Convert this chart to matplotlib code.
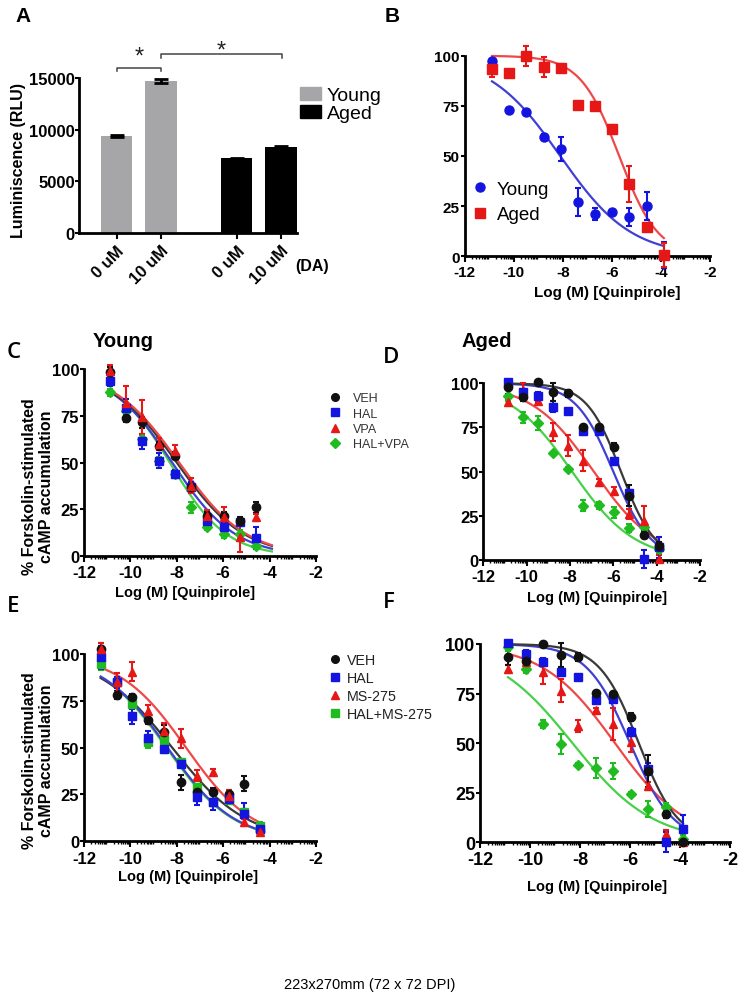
import numpy as np
import matplotlib
matplotlib.use('Agg')
import matplotlib.pyplot as plt
from matplotlib.patches import Patch
from matplotlib.lines import Line2D

W, H = 741, 1004

plt.rcParams['font.family'] = ['Liberation Sans', 'DejaVu Sans']
plt.rcParams['font.weight'] = 'bold'
plt.rcParams['axes.unicode_minus'] = False

# ---------------- data ----------------
# A: luminiscence bars
bar_labels = ['0 uM', '10 uM', '0 uM', '10 uM']
bar_pos = [1.0, 2.0, 3.7, 4.7]
bar_values = [9400, 14700, 7250, 8350]
bar_errors = [100, 220, 50, 100]
bar_groups = ['Young', 'Young', 'Aged', 'Aged']

# log (M) quinpirole concentrations
x_dose = [-10.88, -10.18, -9.48, -8.78, -8.08, -7.38, -6.68, -5.98, -5.28, -4.58, -3.88]
x_dose_e = [-11.28, -10.59, -9.94, -9.23, -8.55, -7.81, -7.13, -6.44, -5.77, -5.09, -4.41]

# B: young vs aged
young_b = [97.5, 72.9, 71.8, 59.3, 53.5, 26.9, 21.1, 21.9, 19.4, 25.2, 0.8]
young_b_err = [1, 1, 1, 1.5, 6, 7, 3, 1, 4.5, 7, 6.5]
aged_b = [93.4, 91.2, 100, 94.5, 93.9, 75.4, 74.8, 63.5, 36.0, 14.8, 0.8]
aged_b_err = [4, 1, 5, 5, 2, 1, 1.5, 2, 9, 2, 6]
# fitted curves: top, bottom, logIC50, hill
fit_young_b = [100, 0, -8.1, 0.3]
fit_aged_b = [100, 0, -5.7, 0.55]

# C: young, VPA
veh_c = [98.2, 73.7, 71.5, 59.0, 53.7, 36.8, 21.7, 21.7, 19.0, 26.2]
veh_c_err = [3, 2, 3, 2, 2, 2, 2, 2, 2, 3]
hal_c = [93.8, 79.0, 61.4, 51.0, 44.0, 36.8, 19.0, 15.8, 18.1, 9.8]
hal_c_err = [3, 5, 4, 4, 2, 3, 4, 2, 2, 6]
vpa_c = [99.0, 81.7, 74.2, 60.0, 56.4, 37.7, 21.7, 21.2, 10.1, 20.8]
vpa_c_err = [3, 9, 9, 3, 3, 4, 3, 5, 8, 2]
halvpa_c = [87.5, 77.8, 62.6, 51.0, 44.0, 26.2, 15.8, 11.9, 11.9, 5.7]
halvpa_c_err = [2, 2, 2, 2, 2, 3, 2, 2, 2, 2]
fit_veh_c = [100, 0, -8.0, 0.3]
fit_hal_c = [100, 0, -8.2, 0.32]
fit_vpa_c = [100, 0, -7.9, 0.3]
fit_halvpa_c = [98, 0, -8.25, 0.36]

# D: aged, VPA
veh_d = [97.7, 92.0, 101.0, 95.0, 94.3, 75.5, 75.0, 64.2, 36.4, 14.3, 8.0]
veh_d_err = [4, 2, 1, 5, 2, 1, 1, 2, 6, 2, 2]
hal_d = [101.0, 95.0, 93.0, 86.8, 84.2, 72.8, 72.8, 56.2, 37.7, 0.6, 7.2]
hal_d_err = [1, 2, 2, 3, 1, 2, 1, 1, 2, 5, 6]
vpa_d = [89.2, 96.2, 90.2, 72.3, 64.7, 56.2, 44.0, 39.2, 26.0, 22.3, 0.6]
vpa_d_err = [2, 4, 1, 5, 6, 6, 2, 2, 3, 8, 2]
halvpa_d = [93.0, 80.8, 77.4, 60.4, 51.5, 30.8, 31.1, 27.0, 18.1, 18.5, 6.0]
halvpa_d_err = [3, 3, 4, 1, 1, 3, 2, 3, 2, 2, 2]
fit_veh_d = [100, 0, -5.65, 0.55]
fit_hal_d = [100, 0, -6.0, 0.5]
fit_vpa_d = [100, 0, -6.9, 0.3]
fit_halvpa_d = [100, 0, -7.9, 0.3]

# E: young, MS-275
veh_e = [102.7, 78.1, 76.9, 64.8, 58.2, 31.5, 26.5, 26.5, 25.3, 30.6, 5.7]
veh_e_err = [3, 2, 2, 2, 4, 4, 3, 2, 2, 4, 2]
hal_e = [98.2, 84.9, 66.7, 55.0, 49.3, 41.3, 23.5, 20.8, 22.6, 14.6, 6.6]
hal_e_err = [6, 3, 4, 4, 2, 2, 4, 4, 2, 6, 2]
ms_e = [102.7, 84.9, 90.6, 69.8, 59.1, 55.0, 35.0, 36.8, 24.4, 10.1, 5.2]
ms_e_err = [3, 5, 5, 3, 4, 5, 3, 2, 3, 2, 1]
halms_e = [94.7, 84.9, 73.3, 52.8, 54.3, 42.2, 28.8, 20.8, 22.2, 15.5, 8.4]
halms_e_err = [3, 2, 2, 3, 2, 2, 2, 2, 2, 2, 2]
fit_veh_e = [100, 0, -8.2, 0.27]
fit_hal_e = [100, 0, -8.4, 0.3]
fit_ms_e = [100, 0, -7.6, 0.3]
fit_halms_e = [100, 0, -8.45, 0.3]

# F: aged, MS-275
veh_f = [93.3, 91.3, 100.0, 94.5, 93.3, 75.1, 74.8, 63.0, 36.1, 14.3, 0.0]
veh_f_err = [4, 2, 1, 6, 2, 1, 1, 2, 8, 2, 1]
hal_f = [100.5, 95.0, 90.8, 86.0, 83.5, 71.9, 72.3, 55.8, 37.0, 0.0, 6.7]
hal_f_err = [1, 2, 2, 2, 1, 2, 1, 2, 3, 5, 7]
ms_f = [87.4, 90.8, 85.7, 76.5, 58.8, 66.7, 59.7, 50.4, 28.6, 4.2, 0.0]
ms_f_err = [2, 2, 6, 6, 3, 1, 8, 5, 2, 2, 1]
halms_f = [98.3, 87.4, 59.7, 49.6, 39.0, 37.3, 36.1, 24.4, 16.8, 17.6, 1.7]
halms_f_err = [2, 2, 2, 5, 1, 5, 4, 1, 4, 2, 2]
fit_veh_f = [100, 0, -5.65, 0.55]
fit_hal_f = [100, 0, -6.0, 0.5]
fit_ms_f = [100, 0, -6.6, 0.3]
fit_halms_f = [100, 0, -8.3, 0.27]

x_ticks = [-12, -10, -8, -6, -4, -2]
y_ticks = [0, 25, 50, 75, 100]

# ---------------- colours / markers ----------------
C_BLACK, L_BLACK = '#111111', '#3a3a3a'
C_BLUE, L_BLUE = '#1414e0', '#4040d4'
C_RED, L_RED = '#e61717', '#ef4848'
C_GREEN, L_GREEN = '#1fbb1f', '#48d048'
GREY_BAR = '#a6a6a9'

fig = plt.figure(figsize=(W / 100, H / 100), dpi=100)


def px_axes(left, top, right, bottom):
    return fig.add_axes([left / W, 1 - bottom / H, (right - left) / W, (bottom - top) / H])


def fig_text(x, y, s, **kw):
    return fig.text(x / W, 1 - y / H, s, **kw)


def four_pl(x, top, bottom, logec50, hill):
    return bottom + (top - bottom) / (1 + 10 ** ((x - logec50) * hill))


def style_dose_axes(ax, xpad, labelsize=12):
    for side in ['top', 'right']:
        ax.spines[side].set_visible(False)
    for side in ['left', 'bottom']:
        ax.spines[side].set_linewidth(2)
    ax.set_xlim(-12, -2)
    ax.set_ylim(0, 100)
    ax.set_xticks(x_ticks)
    ax.set_yticks(y_ticks)
    minor = [n + np.log10(k) for n in range(-12, -2) for k in range(2, 10)]
    ax.set_xticks(minor, minor=True)
    ax.tick_params(axis='x', which='major', length=4, width=1.5, pad=xpad, labelsize=labelsize)
    ax.tick_params(axis='x', which='minor', length=2.5, width=1)
    ax.tick_params(axis='y', length=3, width=1.5, pad=0.5, labelsize=labelsize)
    ax.patch.set_alpha(0)


def draw_series(ax, x, y, err, fit, color, line_color, marker, x_end, ms=6):
    xs = np.linspace(x[0], x_end, 200)
    ax.plot(xs, four_pl(xs, *fit), color=line_color, lw=1.6, zorder=2, clip_on=False)
    eb = ax.errorbar(x, y, yerr=err, fmt=marker, color=color, ms=ms, mec=color,
                     capsize=2.5, elinewidth=1.5, capthick=1.5, zorder=3, clip_on=False)
    for part in eb.lines[1] + eb.lines[2]:
        part.set_clip_on(False)


def marker_handle(color, marker, ms=5.5):
    return Line2D([], [], ls='none', marker=marker, color=color, mec=color, ms=ms)


# ---------------- panel A ----------------
axA = px_axes(79, 79, 297, 234)
bar_colors = [GREY_BAR if g == 'Young' else 'black' for g in bar_groups]
axA.bar(bar_pos, bar_values, width=0.708, color=bar_colors,
        yerr=bar_errors, error_kw=dict(ecolor='black', capsize=5, elinewidth=2, capthick=2))
axA.set_xlim(0.157, 5.054)
axA.set_ylim(0, 15000)
axA.set_yticks([0, 5000, 10000, 15000])
axA.set_xticks(bar_pos)
axA.set_xticklabels(bar_labels, rotation=45, ha='right', rotation_mode='anchor')
for side in ['top', 'right']:
    axA.spines[side].set_visible(False)
for side in ['left', 'bottom']:
    axA.spines[side].set_linewidth(2)
axA.tick_params(axis='y', length=3, width=1.5, pad=0, labelsize=12)
axA.tick_params(axis='x', length=4, width=1.5, pad=3, labelsize=12)

# significance brackets
for x0, x1, y_line, y_end, y_star in [(bar_pos[0], bar_pos[1], 15970, 15680, 17050),
                                      (bar_pos[1], 4.72, 17320, 16930, 17650)]:
    axA.plot([x0, x0, x1, x1], [y_end, y_line, y_line, y_end], color='#444444', lw=1.1,
             clip_on=False)
    axA.text((x0 + x1) / 2, y_star, '*', ha='center', va='center', fontsize=17,
             fontweight='normal', color='#222222', clip_on=False)

axA.legend([Patch(color=GREY_BAR), Patch(color='black')], ['Young', 'Aged'],
           loc='upper left', bbox_to_anchor=(300 / W, 1 - 88 / H),
           bbox_transform=fig.transFigure, frameon=False, borderpad=0, borderaxespad=0,
           handlelength=1.07, handleheight=0.64, handletextpad=0.32, labelspacing=0.05,
           prop={'size': 14, 'weight': 'normal'})
fig_text(19, 160, 'Luminiscence (RLU)', rotation=90, ha='center', va='center', fontsize=11.5)
fig_text(312, 267, '(DA)', ha='center', va='center', fontsize=11.5)

# ---------------- panel B ----------------
axB = px_axes(464.5, 56.7, 710, 257.3)
style_dose_axes(axB, xpad=2, labelsize=11)
draw_series(axB, x_dose, young_b, young_b_err, fit_young_b, C_BLUE, L_BLUE, 'o', x_dose[-1], ms=6.5)
draw_series(axB, x_dose, aged_b, aged_b_err, fit_aged_b, C_RED, L_RED, 's', x_dose[-1], ms=6.5)
axB.legend([marker_handle(C_BLUE, 'o', 6.5), marker_handle(C_RED, 's', 6.5)], ['Young', 'Aged'],
           loc='upper left', bbox_to_anchor=(474.6 / W, 1 - 181.6 / H),
           bbox_transform=fig.transFigure, frameon=False, borderpad=0, borderaxespad=0,
           handlelength=0.6, handletextpad=0.57, labelspacing=0.45,
           prop={'size': 13.5, 'weight': 'normal'})
fig_text(607, 292.5, 'Log (M) [Quinpirole]', ha='center', va='center', fontsize=11)

# ---------------- panel C ----------------
axC = px_axes(84, 370, 316, 557.3)
style_dose_axes(axC, xpad=2.5)
x_c = x_dose[:10]
draw_series(axC, x_c, halvpa_c, halvpa_c_err, fit_halvpa_c, C_GREEN, L_GREEN, 'D', -3.9, ms=5)
draw_series(axC, x_c, hal_c, hal_c_err, fit_hal_c, C_BLUE, L_BLUE, 's', -3.9)
draw_series(axC, x_c, veh_c, veh_c_err, fit_veh_c, C_BLACK, L_BLACK, 'o', -3.9)
draw_series(axC, x_c, vpa_c, vpa_c_err, fit_vpa_c, C_RED, L_RED, '^', -3.9)
axC.legend([marker_handle(C_BLACK, 'o'), marker_handle(C_BLUE, 's'),
            marker_handle(C_RED, '^'), marker_handle(C_GREEN, 'D', 5)],
           ['VEH', 'HAL', 'VPA', 'HAL+VPA'],
           loc='upper left', bbox_to_anchor=(328.75 / W, 1 - 393.5 / H),
           bbox_transform=fig.transFigure, frameon=False, borderpad=0, borderaxespad=0,
           handlelength=1.0, handletextpad=0.94, labelspacing=0.26,
           prop={'size': 9, 'weight': 'normal'}, labelcolor='#333333')
fig_text(185, 593, 'Log (M) [Quinpirole]', ha='center', va='center', fontsize=10.5)
fig_text(38, 487, '% Forskolin-stimulated\ncAMP accumulation', rotation=90, ha='center',
         va='center', fontsize=11.5, linespacing=1.2, multialignment='center')
fig_text(93, 347, 'Young', ha='left', va='baseline', fontsize=14.5)

# ---------------- panel D ----------------
axD = px_axes(483.3, 384.3, 700, 561)
style_dose_axes(axD, xpad=2.5)
draw_series(axD, x_dose, halvpa_d, halvpa_d_err, fit_halvpa_d, C_GREEN, L_GREEN, 'D', -3.9, ms=5)
draw_series(axD, x_dose, vpa_d, vpa_d_err, fit_vpa_d, C_RED, L_RED, '^', -3.9)
draw_series(axD, x_dose, hal_d, hal_d_err, fit_hal_d, C_BLUE, L_BLUE, 's', -3.9)
draw_series(axD, x_dose, veh_d, veh_d_err, fit_veh_d, C_BLACK, L_BLACK, 'o', -3.9)
fig_text(597, 598, 'Log (M) [Quinpirole]', ha='center', va='center', fontsize=10.5)
fig_text(462, 347, 'Aged', ha='left', va='baseline', fontsize=14.5)

# ---------------- panel E ----------------
axE = px_axes(84, 655, 316, 842.3)
style_dose_axes(axE, xpad=3)
draw_series(axE, x_dose_e, halms_e, halms_e_err, fit_halms_e, C_GREEN, L_GREEN, 's', -4.3)
draw_series(axE, x_dose_e, veh_e, veh_e_err, fit_veh_e, C_BLACK, L_BLACK, 'o', -4.3)
draw_series(axE, x_dose_e, hal_e, hal_e_err, fit_hal_e, C_BLUE, L_BLUE, 's', -4.3)
draw_series(axE, x_dose_e, ms_e, ms_e_err, fit_ms_e, C_RED, L_RED, '^', -4.3)
axE.legend([marker_handle(C_BLACK, 'o'), marker_handle(C_BLUE, 's'),
            marker_handle(C_RED, '^'), marker_handle(C_GREEN, 's')],
           ['VEH', 'HAL', 'MS-275', 'HAL+MS-275'],
           loc='upper left', bbox_to_anchor=(329.3 / W, 1 - 653.7 / H),
           bbox_transform=fig.transFigure, frameon=False, borderpad=0, borderaxespad=0,
           handlelength=0.8, handletextpad=0.44, labelspacing=0.28,
           prop={'size': 10.3, 'weight': 'normal'}, labelcolor='#222222')
fig_text(188, 877, 'Log (M) [Quinpirole]', ha='center', va='center', fontsize=10.5)
fig_text(38, 761, '% Forskolin-stimulated\ncAMP accumulation', rotation=90, ha='center',
         va='center', fontsize=11.5, linespacing=1.2, multialignment='center')

# ---------------- panel F ----------------
axF = px_axes(480, 645, 730, 843.3)
style_dose_axes(axF, xpad=2.5, labelsize=13)
draw_series(axF, x_dose, halms_f, halms_f_err, fit_halms_f, C_GREEN, L_GREEN, 'D', -3.88, ms=5)
draw_series(axF, x_dose, ms_f, ms_f_err, fit_ms_f, C_RED, L_RED, '^', -3.88)
draw_series(axF, x_dose, hal_f, hal_f_err, fit_hal_f, C_BLUE, L_BLUE, 's', -3.88)
draw_series(axF, x_dose, veh_f, veh_f_err, fit_veh_f, C_BLACK, L_BLACK, 'o', -3.88)
fig_text(597.5, 887, 'Log (M) [Quinpirole]', ha='center', va='center', fontsize=10.5)

# ---------------- panel letters / footer ----------------
for letter, x, y in [('A', 15, 22), ('B', 385, 22)]:
    fig_text(x, y, letter, ha='left', va='baseline', fontsize=15)
for letter, x, y in [('C', 7, 358), ('D', 383, 363), ('E', 7, 612), ('F', 383, 608)]:
    fig_text(x, y, letter, ha='left', va='baseline', fontsize=16, family='Open Sans',
             fontweight='semibold')

fig_text(370, 985, '223x270mm (72 x 72 DPI)', ha='center', va='center', fontsize=10.5,
         fontweight='normal')

fig.savefig('out.png', dpi=100)
